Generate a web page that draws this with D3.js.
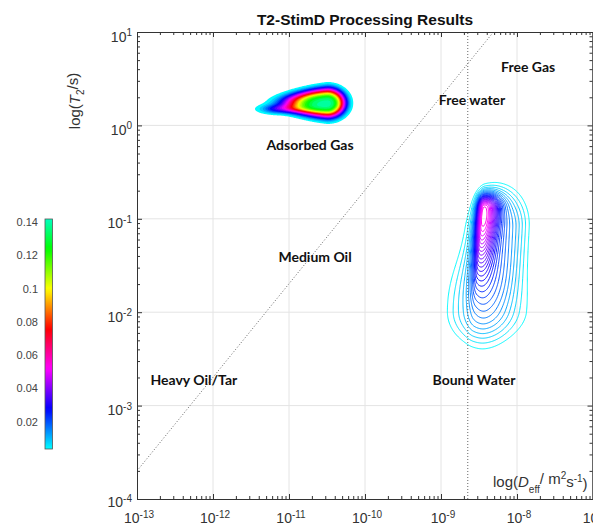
<!DOCTYPE html>
<html>
<head>
<meta charset="utf-8">
<script src="https://cdn.jsdelivr.net/npm/d3@7"></script>
<style>
  body { margin: 0; background: #fff; }
  text { font-family: "Liberation Sans", Arial, sans-serif; }
  .region { font-family: Lato, "Open Sans", sans-serif; font-weight: bold; font-size: 14px; fill: #111; }
</style>
</head>
<body>
<svg id="chart" width="593" height="531"></svg>
<script>
//Axis decades (log10 of the major ticks)
var xDecades = [-13, -12, -11, -10, -9, -8, -7];
var yDecades = [-4, -3, -2, -1, 0, 1];

//Colour bar
var cbarMin = 0.0036, cbarMax = 0.142;
var cbarTicks = [0.02, 0.04, 0.06, 0.08, 0.1, 0.12, 0.14];
var cbarLabels = ["0.02", "0.04", "0.06", "0.08", "0.1", "0.12", "0.14"];

//Adsorbed gas peak (filled contours): log10 D, log10 T2, amplitude,
//spreads in decades, peak flatness, tilt and left-side taper
var gasLogD    = [-10.5, -11.15];
var gasLogT2   = [0.235, 0.17];
var gasAmp     = [0.14, 0.03];
var gasSdLeft  = [0.42, 0.15];
var gasSdRight = [0.177, 0.3];
var gasSdDown  = [0.117, 0.032];
var gasSdUp    = [0.117, 0.032];
var gasShape   = [3, 2];
var gasTilt    = [0, 0];
var gasTaper   = [0.4, 0];
var gasLevels  = d3.range(0.004, 0.14, 0.0045);

//Bound water peak (contour lines): body, ridge and lower lobe
var waterLogD    = [-8.3, -8.447, -8.58];
var waterLogT2   = [-1.1, -0.884, -2.0];
var waterAmp     = [0.016, 0.043, 0.009];
var waterSdLeft  = [0.26, 0.06, 0.28];
var waterSdRight = [0.32, 0.14, 0.55];
var waterSdDown  = [0.8, 0.45, 0.26];
var waterSdUp    = [0.33, 0.1, 0.5];
var waterShape   = [3, 2, 2.5];
var waterTilt    = [0.1, 0.1, 0];
var waterTaper   = [0, 0, 0];
var waterLevels  = d3.range(0.004, 0.057, 0.002);

//Guide lines
var waterD = 2.25e-9;
var diagD  = [1e-13, 4.9e-9];
var diagT2 = [2.0e-4, 10];

//Region labels
var regionNames = ["Free Gas", "Free water", "Adsorbed Gas", "Medium Oil", "Heavy Oil/Tar", "Bound Water"];
var regionD     = [1.4e-8, 2.56e-9, 1.89e-11, 2.2e-11, 5.6e-13, 2.72e-9];
var regionT2    = [4.2, 1.87, 0.616, 0.039, 0.00188, 0.00188];

var svg = d3.select("#chart");
var x = d3.scaleLog().domain([1e-13, 1e-7]).range([137, 593]);
var y = d3.scaleLog().domain([1e-4, 10]).range([499, 32]);
var pLeft = 137, pRight = 592.5, pTop = 32, pBottom = 499;

//hsv style ramp: cyan -> blue -> magenta -> red -> yellow -> green -> teal
var hueScale = d3.scaleLinear().domain([cbarMin, cbarMax]).range([180, 525]).clamp(true);
function cmap(v) { return d3.hsl(hueScale(v) % 360, 1, 0.5).toString(); }

svg.append("clipPath").attr("id", "plotclip")
  .append("rect").attr("x", pLeft).attr("y", pTop).attr("width", pRight - pLeft).attr("height", pBottom - pTop);

//Grid
var pow = function(e) { return Math.pow(10, e); };
svg.append("g").selectAll("line").data(xDecades.slice(1, -1)).enter().append("line")
  .attr("x1", function(d) { return x(pow(d)); }).attr("x2", function(d) { return x(pow(d)); })
  .attr("y1", pTop).attr("y2", pBottom).attr("stroke", "#e4e4e4");
svg.append("g").selectAll("line").data(yDecades.slice(1, -1)).enter().append("line")
  .attr("y1", function(d) { return y(pow(d)); }).attr("y2", function(d) { return y(pow(d)); })
  .attr("x1", pLeft).attr("x2", pRight).attr("stroke", "#e4e4e4");

//Evaluate the peaks on a grid in log space
var uMin = -13, uMax = -7, vMin = -4, vMax = 1, step = 0.01;
var nu = Math.round((uMax - uMin) / step) + 1, nv = Math.round((vMax - vMin) / step) + 1;
function grid(p) {
  var vals = new Float64Array(nu * nv);
  for (var j = 0; j < nv; j++) {
    var v = vMin + j * step;
    for (var i = 0; i < nu; i++) {
      var u = uMin + i * step, s = 0;
      for (var k = 0; k < p.amp.length; k++) {
        var uc = p.ld[k] + p.tilt[k] * (v - p.lt[k]);
        var du = (u - uc) / (u < uc ? p.sl[k] : p.sr[k]);
        var sv = (v < p.lt[k] ? p.sd[k] : p.su[k]);
        if (u < uc) sv *= Math.max(0.2, 1 + p.taper[k] * (u - uc));
        var dv = (v - p.lt[k]) / sv;
        s += p.amp[k] * Math.exp(-0.5 * Math.pow(du * du + dv * dv, p.shape[k] / 2));
      }
      vals[j * nu + i] = s;
    }
  }
  return vals;
}
var path = d3.geoPath(d3.geoTransform({
  point: function(gx, gy) {
    this.stream.point(x(pow(uMin + gx * step)), y(pow(vMin + gy * step)));
  }
}));

var plot = svg.append("g").attr("clip-path", "url(#plotclip)");

var gasGrid = grid({ld: gasLogD, lt: gasLogT2, amp: gasAmp, sl: gasSdLeft, sr: gasSdRight,
  sd: gasSdDown, su: gasSdUp, shape: gasShape, tilt: gasTilt, taper: gasTaper});
plot.append("g").selectAll("path")
  .data(d3.contours().size([nu, nv]).thresholds(gasLevels)(gasGrid))
  .enter().append("path")
  .attr("d", path)
  .attr("fill", function(d) { return cmap(d.value); })
  .attr("fill-rule", "evenodd");

var waterGrid = grid({ld: waterLogD, lt: waterLogT2, amp: waterAmp, sl: waterSdLeft, sr: waterSdRight,
  sd: waterSdDown, su: waterSdUp, shape: waterShape, tilt: waterTilt, taper: waterTaper});
plot.append("g").selectAll("path")
  .data(d3.contours().size([nu, nv]).thresholds(waterLevels)(waterGrid))
  .enter().append("path")
  .attr("d", path)
  .attr("fill", "none")
  .attr("stroke", function(d) { return cmap(d.value); })
  .attr("stroke-width", 1);

//Dotted guide lines
plot.append("line")
  .attr("x1", x(waterD)).attr("x2", x(waterD)).attr("y1", pBottom).attr("y2", pTop)
  .attr("stroke", "#666").attr("stroke-dasharray", "1,2");
plot.append("line")
  .attr("x1", x(diagD[0])).attr("y1", y(diagT2[0]))
  .attr("x2", x(diagD[1])).attr("y2", y(diagT2[1]))
  .attr("stroke", "#666").attr("stroke-dasharray", "1,2");

//Axes with inward ticks on all four sides
var minors = function(decs) {
  var out = [];
  decs.slice(0, -1).forEach(function(e) { for (var m = 2; m < 10; m++) out.push(m * pow(e)); });
  return out;
};
var xMaj = xDecades.map(pow), yMaj = yDecades.map(pow);
function addAxis(axis, tr, vals, size) {
  var g = svg.append("g").attr("transform", tr)
    .call(axis.tickValues(vals).tickSizeInner(size).tickSizeOuter(0).tickFormat(""));
  g.select(".domain").attr("stroke", "#333");
  g.selectAll(".tick line").attr("stroke", "#333");
  return g;
}
addAxis(d3.axisBottom(x), "translate(0," + pBottom + ")", xMaj, -5);
addAxis(d3.axisBottom(x), "translate(0," + pBottom + ")", minors(xDecades), -3);
addAxis(d3.axisTop(x), "translate(0," + pTop + ")", xMaj, -5);
addAxis(d3.axisTop(x), "translate(0," + pTop + ")", minors(xDecades), -3);
addAxis(d3.axisLeft(y), "translate(" + pLeft + ",0)", yMaj, -5);
addAxis(d3.axisLeft(y), "translate(" + pLeft + ",0)", minors(yDecades), -3);
addAxis(d3.axisRight(y), "translate(" + pRight + ",0)", yMaj, -5);
addAxis(d3.axisRight(y), "translate(" + pRight + ",0)", minors(yDecades), -3);

//Tick labels as 10^n
function powLabel(sel) {
  sel.append("tspan").text("10");
  sel.append("tspan").attr("dy", "-0.55em").attr("font-size", "10px").text(function(d) { return d; });
}
svg.append("g").selectAll("text").data(xDecades).enter().append("text")
  .attr("x", function(d) { return x(pow(d)) + 2; }).attr("y", 523)
  .attr("text-anchor", "middle").attr("font-size", "14px").attr("fill", "#333")
  .call(powLabel);
svg.append("g").selectAll("text").data(yDecades).enter().append("text")
  .attr("x", 132).attr("y", function(d) { return y(pow(d)) + (d === -4 ? 8 : 9.5); })
  .attr("text-anchor", "end").attr("font-size", "14px").attr("fill", "#333")
  .call(powLabel);

//Title and axis titles
svg.append("text").attr("x", 365).attr("y", 25).attr("text-anchor", "middle")
  .attr("font-size", "15.5px").attr("font-weight", "bold").attr("fill", "#111")
  .text("T2-StimD Processing Results");

var yl = svg.append("text").attr("transform", "translate(80,101) rotate(-90)")
  .attr("text-anchor", "middle").attr("font-size", "15px").attr("fill", "#333");
yl.append("tspan").text("log(");
yl.append("tspan").attr("font-style", "italic").text("T");
yl.append("tspan").attr("font-size", "10px").attr("dy", "0.35em").text("2");
yl.append("tspan").attr("dy", "-0.35em").text("/s)");

var xl = svg.append("text").attr("x", 493).attr("y", 487)
  .attr("font-size", "15px").attr("fill", "#333");
xl.append("tspan").text("log(");
xl.append("tspan").attr("font-style", "italic").text("D");
xl.append("tspan").attr("font-size", "10px").attr("dy", "0.55em").text("eff");
xl.append("tspan").attr("dy", "-0.55em").text("/ m");
xl.append("tspan").attr("font-size", "10px").attr("dy", "-0.5em").text("2");
xl.append("tspan").attr("dy", "0.5em").text("s");
xl.append("tspan").attr("font-size", "10px").attr("dy", "-0.5em").text("-1");
xl.append("tspan").attr("dy", "0.5em").text(")");

//Region annotations
svg.append("g").selectAll("text").data(regionNames).enter().append("text")
  .attr("class", "region")
  .attr("x", function(d, i) { return x(regionD[i]); })
  .attr("y", function(d, i) { return y(regionT2[i]); })
  .attr("dy", "0.35em").attr("text-anchor", "middle")
  .text(function(d) { return d; });

//Colour bar
var cy = d3.scaleLinear().domain([cbarMin, cbarMax]).range([449, 219]);
var grad = svg.append("defs").append("linearGradient").attr("id", "cbar")
  .attr("x1", 0).attr("y1", 1).attr("x2", 0).attr("y2", 0);
grad.selectAll("stop").data(d3.range(0, 1.0001, 0.02)).enter().append("stop")
  .attr("offset", function(t) { return t; })
  .attr("stop-color", function(t) { return cmap(cbarMin + t * (cbarMax - cbarMin)); });
svg.append("rect").attr("x", 45).attr("y", 219).attr("width", 7.5).attr("height", 230)
  .attr("fill", "url(#cbar)").attr("stroke", "#555").attr("stroke-width", 0.8);
svg.append("g").selectAll("text").data(cbarTicks).enter().append("text")
  .attr("x", 38).attr("y", function(d) { return cy(d); }).attr("dy", "0.35em")
  .attr("text-anchor", "end").attr("font-size", "11px").attr("fill", "#444")
  .text(function(d, i) { return cbarLabels[i]; });
</script>
</body>
</html>
